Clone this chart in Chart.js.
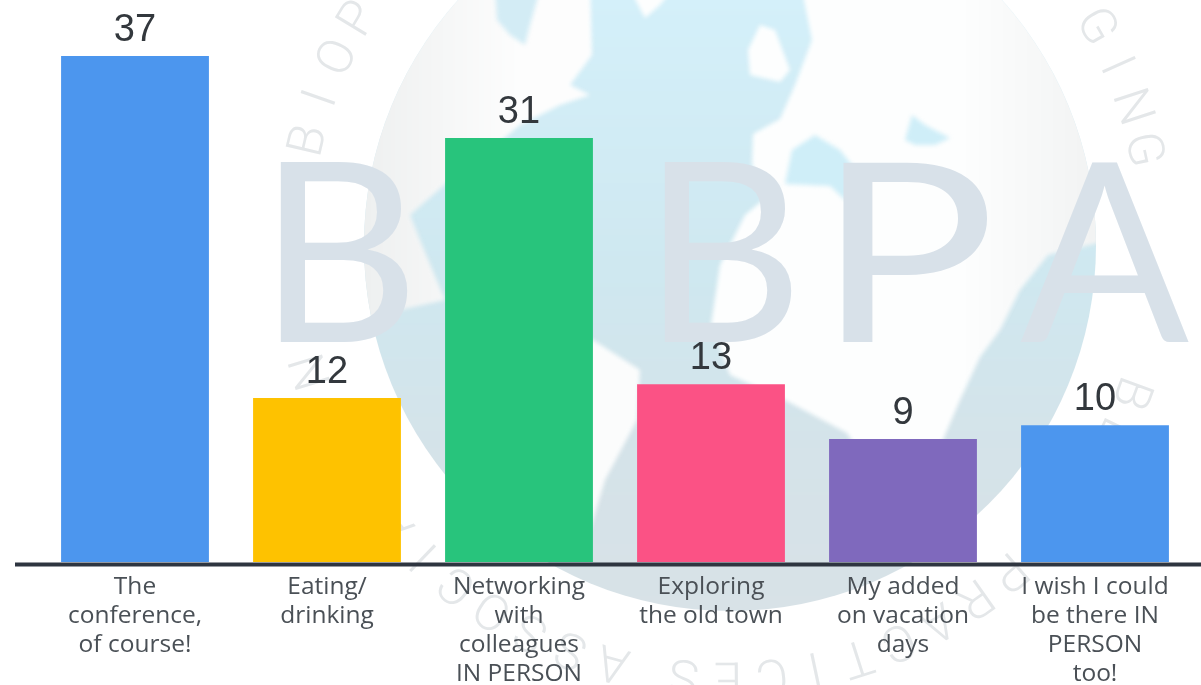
<!DOCTYPE html>
<html>
<head>
<meta charset="utf-8">
<style>html,body{margin:0;padding:0;background:#fff;overflow:hidden}canvas{display:block}</style>
<script src="https://cdn.jsdelivr.net/npm/chart.js@4"></script>
</head>
<body>
<canvas id="c" width="1201" height="685"></canvas>
<script>
const categories = [
  ["The","conference,","of course!"],
  ["Eating/","drinking"],
  ["Networking","with","colleagues","IN PERSON"],
  ["Exploring","the old town"],
  ["My added","on vacation","days"],
  ["I wish I could","be there IN","PERSON","too!"]
];
const votes = [37, 12, 31, 13, 9, 10];
const barColors = ["#4c96ee","#fec200","#28c47c","#fb5285","#7f69bd","#4c96ee"];

function shape(ctx, pts){
  ctx.beginPath();
  pts.forEach((p,i)=> i?ctx.lineTo(p[0],p[1]):ctx.moveTo(p[0],p[1]));
  ctx.closePath(); ctx.fill();
}
function arcText(ctx, text, cx, cy, r, startDeg, stepDeg){
  ctx.textAlign='center'; ctx.textBaseline='middle';
  [...text].forEach((ch,i)=>{
    const a=(startDeg+i*stepDeg)*Math.PI/180;
    ctx.save();
    ctx.translate(cx+r*Math.cos(a), cy+r*Math.sin(a));
    ctx.rotate(a+Math.PI/2);
    ctx.fillText(ch,0,0);
    ctx.restore();
  });
}
const watermark = {
  id:'watermark',
  beforeDraw(chart){
    const ctx=chart.ctx;
    ctx.save();
    ctx.fillStyle='#fff'; ctx.fillRect(0,0,1201,685);
    // globe
    ctx.save();
    ctx.beginPath(); ctx.arc(730,245,366,0,Math.PI*2); ctx.clip();
    ctx.filter='blur(2px)';
    const oc=ctx.createLinearGradient(0,0,0,610);
    oc.addColorStop(0,'#d4f0fa'); oc.addColorStop(.45,'#cfe8f0'); oc.addColorStop(.75,'#d5e3e9'); oc.addColorStop(1,'#d8e2e7');
    ctx.fillStyle=oc; ctx.fillRect(340,-20,780,660);
    // Americas
    const na=ctx.createLinearGradient(365,0,520,0);
    na.addColorStop(0,'#eef0f0'); na.addColorStop(1,'#fdfdfd');
    ctx.fillStyle=na;
    shape(ctx,[[340,-20],[590,-20],[592,55],[570,85],[590,95],[560,105],[520,125],[490,150],[450,180],[410,215],[420,240],[445,300],[400,310],[340,330]]);
    ctx.fillStyle='#fbfcfc';
    shape(ctx,[[470,300],[593,340],[640,370],[637,420],[605,480],[590,530],[540,520],[480,420]]);
    ctx.fillStyle='#d3ecf5';
    shape(ctx,[[495,-10],[540,-10],[530,25],[525,45],[510,35],[497,20]]);
    // Greenland, Britain
    ctx.fillStyle='#fdfefe';
    shape(ctx,[[625,-20],[680,-20],[660,5],[645,18]]);
    shape(ctx,[[760,25],[775,30],[790,70],[780,82],[750,75],[748,50]]);
    // Eurasia and Africa
    const land=ctx.createLinearGradient(960,0,1096,0);
    land.addColorStop(0,'#fdfefe'); land.addColorStop(1,'#f2f3f3');
    ctx.fillStyle=land;
    shape(ctx,[[800,-20],[1110,-20],[1110,240],[1048,255],[1020,290],[1000,330],[980,357],[960,400],[930,470],[890,500],[847,433],[785,400],[730,375],[711,325],[720,265],[745,215],[780,186],[760,180],[752,165],[753,134],[780,119],[795,85],[812,40]]);
    // inner seas
    ctx.fillStyle='#cfeef8';
    shape(ctx,[[792,150],[815,135],[840,150],[860,175],[845,200],[830,186],[785,184]]);
    shape(ctx,[[905,140],[912,115],[925,125],[950,138],[935,145],[915,145]]);
    ctx.restore();
    // big letters
    ctx.fillStyle='#d8e1e9';
    ctx.font='250px "Lato", "Liberation Sans", sans-serif';
    ctx.textAlign='left'; ctx.textBaseline='alphabetic';
    const base=342;
    ctx.fillText('B',258,base);
    ctx.fillText('B',642,base);
    ctx.save(); ctx.translate(816,base); ctx.scale(1.2,1); ctx.fillText('P',0,0); ctx.restore();
    ctx.fillText('A',1020,base);
    // ring text
    ctx.fillStyle='#e4e7e9';
    ctx.font='300 50px Roboto, "Liberation Sans", sans-serif';
    arcText(ctx,'BIOP',725,240,426,-166.6,5.9);
    arcText(ctx,'GING',725,240,426,-29.9,5.9);
    arcText(ctx,'BEST PRACTICES',725,245,430,20,5.8);
    arcText(ctx,'ASSOCIATION',725,245,430,105,5.8);
    ctx.restore();
  }
};
const overlay = {
  id:'overlay',
  afterDatasetsDraw(chart){
    const ctx=chart.ctx, y0=chart.scales.y.getPixelForValue(0);
    ctx.save();
    ctx.strokeStyle='#2e3540'; ctx.lineWidth=4;
    ctx.beginPath(); ctx.moveTo(15,y0+2.5); ctx.lineTo(1201,y0+2.5); ctx.stroke();
    ctx.fillStyle='#33383d';
    ctx.font='38px "Liberation Sans Narrow", "Liberation Sans", sans-serif';
    ctx.textAlign='center'; ctx.textBaseline='alphabetic';
    chart.getDatasetMeta(0).data.forEach((bar,i)=>{
      ctx.fillText(String(votes[i]), bar.x, bar.y-15);
    });
    ctx.restore();
  }
};
new Chart(document.getElementById('c'),{
  type:'bar',
  data:{labels:categories,datasets:[{data:votes,backgroundColor:barColors,borderWidth:0,barPercentage:0.77,categoryPercentage:1}]},
  plugins:[watermark,overlay],
  options:{
    responsive:false,animation:false,
    layout:{padding:{left:39,right:10,top:15,bottom:0}},
    plugins:{legend:{display:false},tooltip:{enabled:false}},
    scales:{
      y:{display:false,min:0,max:40},
      x:{
        grid:{display:false},border:{display:false},
        afterFit(s){s.height=123;},
        ticks:{autoSkip:false,maxRotation:0,minRotation:0,padding:2,color:'#4a5056',
          font:{family:'"Open Sans", "Lato", sans-serif',size:24.5,lineHeight:1.19}}
      }
    }
  }
});
</script>
</body>
</html>
